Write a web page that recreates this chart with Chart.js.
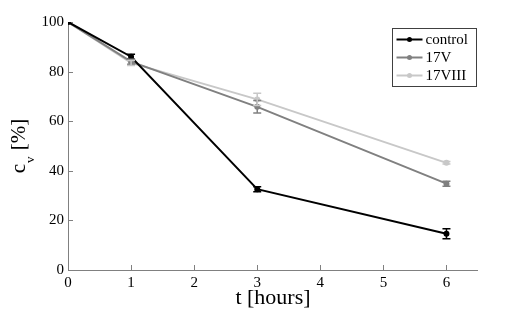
<!DOCTYPE html>
<html>
<head>
<meta charset="utf-8">
<script src="https://cdn.jsdelivr.net/npm/chart.js@4"></script>
<style>
  html, body { margin: 0; padding: 0; background: #fff; }
  #wrap { width: 528px; height: 311px; }
</style>
</head>
<body>
<div id="wrap"><canvas id="chart" width="528" height="311"></canvas></div>
<script>
//------------------------------------
// Data
//------------------------------------

const hours = [0, 1, 3, 6];

const controlValues = [100, 86, 32.6, 14.6];
const controlErr = [0, 1, 1, 2];

const v17Values = [100, 84, 65.8, 34.8];
const v17Err = [0, 1, 2.5, 1];

const viii17Values = [100, 83.5, 68.8, 43.2];
const viii17Err = [0, 1, 2.5, 0.5];

const seriesNames = ["control", "17V", "17VIII"];
const seriesColors = ["#000000", "#808080", "#c8c8c8"];

const yTicks = [0, 20, 40, 60, 80, 100];
const xTicks = [0, 1, 2, 3, 4, 5, 6];

const serif = "'Liberation Serif', 'DejaVu Serif', serif";

function toPoints(values) {
    return hours.map((h, i) => ({ x: h, y: values[i] }));
}

function makeSet(i, values, errs) {
    return {
        label: seriesNames[i],
        data: toPoints(values),
        errors: errs,
        borderColor: seriesColors[i],
        backgroundColor: seriesColors[i],
        borderWidth: 2,
        pointRadius: 2,
        pointHoverRadius: 2,
        tension: 0,
        fill: false
    };
}

//------------------------------------
// Plugin: error bars, inward ticks, titles, legend
//------------------------------------

const decorPlugin = {
    id: "decor",
    beforeDatasetsDraw(chart) {
        const ctx = chart.ctx;
        const xs = chart.scales.x;
        const ys = chart.scales.y;
        const area = chart.chartArea;

        ctx.save();
        ctx.strokeStyle = "#808080";
        ctx.lineWidth = 1;

        // inward ticks
        xTicks.forEach(t => {
            const px = Math.round(xs.getPixelForValue(t)) + 0.5;
            ctx.beginPath();
            ctx.moveTo(px, area.bottom);
            ctx.lineTo(px, area.bottom - 5);
            ctx.stroke();
        });
        yTicks.forEach(t => {
            const py = Math.round(ys.getPixelForValue(t)) + 0.5;
            ctx.beginPath();
            ctx.moveTo(area.left, py);
            ctx.lineTo(area.left + 5, py);
            ctx.stroke();
        });

        // axis lines (left + bottom only)
        ctx.beginPath();
        ctx.moveTo(Math.round(area.left) + 0.5, area.top);
        ctx.lineTo(Math.round(area.left) + 0.5, Math.round(area.bottom) + 0.5);
        ctx.lineTo(area.right, Math.round(area.bottom) + 0.5);
        ctx.stroke();
        ctx.restore();
    },
    afterDatasetsDraw(chart) {
        const ctx = chart.ctx;
        const xs = chart.scales.x;
        const ys = chart.scales.y;

        ctx.save();
        chart.data.datasets.forEach(ds => {
            ctx.strokeStyle = ds.borderColor;
            ctx.lineWidth = 1.5;
            ds.data.forEach((p, i) => {
                const e = ds.errors[i];
                if (!e) return;
                const px = xs.getPixelForValue(p.x);
                const top = ys.getPixelForValue(p.y + e);
                const bot = ys.getPixelForValue(p.y - e);
                ctx.beginPath();
                ctx.moveTo(px, top);
                ctx.lineTo(px, bot);
                ctx.moveTo(px - 4, top);
                ctx.lineTo(px + 4, top);
                ctx.moveTo(px - 4, bot);
                ctx.lineTo(px + 4, bot);
                ctx.stroke();
            });
        });
        ctx.restore();
    },
    afterDraw(chart) {
        const ctx = chart.ctx;
        const area = chart.chartArea;

        ctx.save();
        ctx.fillStyle = "#000";

        // x title
        ctx.font = "22px " + serif;
        ctx.textAlign = "center";
        ctx.textBaseline = "alphabetic";
        ctx.fillText("t [hours]", (area.left + area.right) / 2, 304);

        // y title, rotated, with subscript
        ctx.translate(25, (area.top + area.bottom) / 2 + 1);
        ctx.rotate(-Math.PI / 2);
        ctx.textAlign = "left";
        ctx.font = "21px " + serif;
        const w1 = ctx.measureText("c").width;
        ctx.font = "13px " + serif;
        const w2 = ctx.measureText("v").width;
        ctx.font = "21px " + serif;
        const w3 = ctx.measureText(" [%]").width;
        let x0 = -(w1 + w2 + w3) / 2;
        ctx.fillText("c", x0, 0);
        ctx.font = "13px " + serif;
        ctx.fillText("v", x0 + w1 + 1, 9);
        ctx.font = "21px " + serif;
        ctx.fillText(" [%]", x0 + w1 + w2 + 2, 0);
        ctx.setTransform(1, 0, 0, 1, 0, 0);

        // legend box
        const lx = 392.5, ly = 28.5, lw = 84, lh = 58;
        ctx.fillStyle = "#fff";
        ctx.fillRect(lx, ly, lw, lh);
        ctx.strokeStyle = "#404040";
        ctx.lineWidth = 1;
        ctx.strokeRect(lx, ly, lw, lh);

        ctx.font = "15px " + serif;
        ctx.textBaseline = "middle";
        chart.data.datasets.forEach((ds, i) => {
            const cy = ly + 11 + i * 18;
            ctx.strokeStyle = ds.borderColor;
            ctx.fillStyle = ds.borderColor;
            ctx.lineWidth = 2;
            ctx.beginPath();
            ctx.moveTo(lx + 4, cy);
            ctx.lineTo(lx + 30, cy);
            ctx.stroke();
            ctx.beginPath();
            ctx.arc(lx + 17, cy, 2.5, 0, Math.PI * 2);
            ctx.fill();
            ctx.fillStyle = "#000";
            ctx.fillText(ds.label, lx + 33, cy + 1);
        });
        ctx.restore();
    }
};

//------------------------------------
// Chart
//------------------------------------

window.addEventListener("load", function () {

    const ctx = document.getElementById("chart");

    new Chart(ctx, {
        type: "line",
        data: {
            datasets: [
                makeSet(0, controlValues, controlErr),
                makeSet(1, v17Values, v17Err),
                makeSet(2, viii17Values, viii17Err)
            ]
        },
        options: {
            responsive: false,
            animation: false,
            events: [],
            layout: { padding: { left: 0, right: 50, top: 22, bottom: 21 } },
            plugins: {
                legend: { display: false },
                tooltip: { enabled: false }
            },
            scales: {
                x: {
                    type: "linear",
                    min: 0,
                    max: 6.5,
                    border: { display: false },
                    grid: { display: false, drawTicks: false },
                    afterBuildTicks(scale) {
                        scale.ticks = xTicks.map(v => ({ value: v }));
                    },
                    ticks: {
                        color: "#000",
                        font: { family: serif, size: 15 },
                        padding: 4,
                        maxRotation: 0
                    },
                    afterFit(scale) { scale.height = 20; }
                },
                y: {
                    min: 0,
                    max: 100,
                    border: { display: false },
                    grid: { display: false, drawTicks: false },
                    afterBuildTicks(scale) {
                        scale.ticks = yTicks.map(v => ({ value: v }));
                    },
                    ticks: {
                        color: "#000",
                        font: { family: serif, size: 15 },
                        padding: 4
                    },
                    afterFit(scale) { scale.width = 68; }
                }
            }
        },
        plugins: [decorPlugin]
    });

});
</script>
</body>
</html>
